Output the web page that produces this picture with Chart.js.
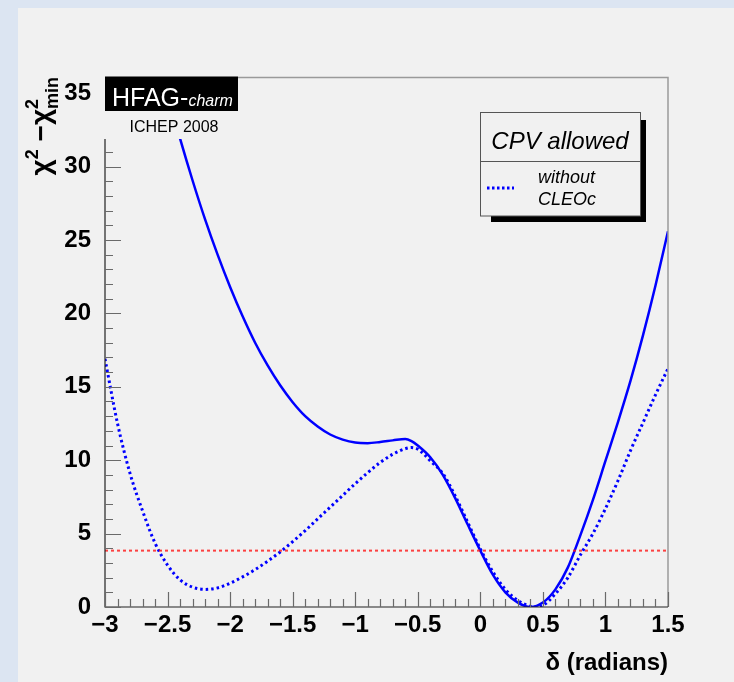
<!DOCTYPE html>
<html>
<head>
<meta charset="utf-8">
<script src="https://cdn.jsdelivr.net/npm/chart.js@4/dist/chart.umd.min.js"></script>
<style>
  html, body { margin: 0; padding: 0; background: #dce5f2; }
  canvas { display: block; }
</style>
</head>
<body>
<canvas id="chart" width="734" height="682"></canvas>
<script>
// delta (radians) vs chi2 - chi2min
var solidX = [-2.6, -2.5, -2.4, -2.3, -2.2, -2.1, -2.0, -1.9, -1.8, -1.7, -1.6, -1.5, -1.4, -1.3, -1.2, -1.1,
  -1.0, -0.9, -0.8, -0.7, -0.6, -0.55, -0.5, -0.4, -0.3, -0.2, -0.1, 0.0, 0.1, 0.2, 0.3, 0.4,
  0.5, 0.6, 0.7, 0.8, 0.9, 1.0, 1.1, 1.2, 1.3, 1.4, 1.5];
var solidY = [38.2, 34.95, 31.9, 29.05, 26.4, 24.0, 21.8, 19.8, 18.0, 16.45, 15.1, 13.95, 13.0, 12.3, 11.75, 11.4,
  11.2, 11.16, 11.24, 11.35, 11.45, 11.3, 11.0, 10.2, 9.0, 7.4, 5.6, 3.84, 2.2, 1.0, 0.3, 0.0,
  0.3, 1.2, 2.7, 4.9, 7.3, 9.95, 12.6, 15.4, 18.5, 21.9, 25.6];

// without CLEOc
var dottedX = [-3.0, -2.9, -2.8, -2.7, -2.6, -2.5, -2.4, -2.3, -2.2, -2.1, -2.0, -1.9, -1.8, -1.7, -1.6,
  -1.5, -1.4, -1.3, -1.2, -1.1, -1.0, -0.9, -0.8, -0.7, -0.6, -0.55, -0.5, -0.45, -0.4, -0.3, -0.2,
  -0.1, 0.0, 0.1, 0.2, 0.3, 0.4, 0.45, 0.5, 0.6, 0.7, 0.8, 0.9, 1.0, 1.1, 1.2, 1.3, 1.4, 1.5];
var dottedY = [16.9, 12.5, 9.1, 6.55, 4.35, 2.85, 1.85, 1.35, 1.2, 1.3, 1.62, 2.05, 2.55, 3.12, 3.75,
  4.45, 5.2, 6.0, 6.8, 7.6, 8.4, 9.15, 9.85, 10.4, 10.78, 10.86, 10.75, 10.4, 9.95, 9.1, 7.55,
  5.75, 3.95, 2.4, 1.2, 0.45, 0.05, 0.0, 0.1, 0.9, 2.0, 3.55, 5.0, 6.7, 8.6, 10.65, 12.55, 14.45, 16.24];

// 95% CL line
var limitX = [-3, 1.5];
var limitY = [3.84, 3.84];

var xTicks = [-3, -2.5, -2, -1.5, -1, -0.5, 0, 0.5, 1, 1.5];
var yTicks = [0, 5, 10, 15, 20, 25, 30, 35];

function pts(xs, ys) {
  return xs.map(function (x, i) { return { x: x, y: ys[i] }; });
}

function fmt(v) {
  v = Math.round(v * 10) / 10;
  return (v < 0 ? '\u2212' : '') + Math.abs(v);
}

var FONT = '"Liberation Sans", Arial, Helvetica, sans-serif';

// panel background
var bgPlugin = {
  id: 'bg',
  beforeDraw: function (chart) {
    var ctx = chart.ctx;
    ctx.save();
    ctx.fillStyle = '#dce5f2';
    ctx.fillRect(0, 0, chart.width, chart.height);
    ctx.fillStyle = '#f1f1f1';
    ctx.fillRect(18, 8, chart.width - 18, chart.height - 8);
    ctx.restore();
  }
};

// frame, axis lines and inward ticks like ROOT
var framePlugin = {
  id: 'frame',
  afterDatasetsDraw: function (chart) {
    var ctx = chart.ctx, a = chart.chartArea;
    var xs = chart.scales.x, ys = chart.scales.y;
    ctx.save();
    ctx.strokeStyle = '#9a9a9a';
    ctx.lineWidth = 1.5;
    ctx.beginPath();
    ctx.moveTo(a.left, a.top + 0.5);
    ctx.lineTo(a.right, a.top + 0.5);
    ctx.lineTo(a.right, a.bottom);
    ctx.stroke();

    ctx.strokeStyle = '#222';
    ctx.lineWidth = 1.2;
    ctx.beginPath();
    ctx.moveTo(a.left, a.top);
    ctx.lineTo(a.left, a.bottom);
    ctx.lineTo(a.right, a.bottom);
    ctx.stroke();

    ctx.strokeStyle = '#6a6a6a';
    ctx.lineWidth = 1.2;
    ctx.beginPath();
    var i, p, major;
    for (i = 0; i <= 36; i++) {
      p = Math.round(ys.getPixelForValue(i)) + 0.5;
      major = i % 5 === 0;
      ctx.moveTo(a.left, p);
      ctx.lineTo(a.left + (major ? 16 : 8), p);
    }
    for (i = -30; i <= 15; i++) {
      p = Math.round(xs.getPixelForValue(i / 10)) + 0.5;
      major = i % 5 === 0;
      ctx.moveTo(p, a.bottom);
      ctx.lineTo(p, a.bottom - (major ? 15 : 8));
    }
    ctx.stroke();
    ctx.restore();
  }
};

// labels, legend and y title
var overlayPlugin = {
  id: 'overlay',
  afterDraw: function (chart) {
    var ctx = chart.ctx;
    ctx.save();

    // HFAG-charm logo
    ctx.fillStyle = '#f1f1f1';
    ctx.fillRect(104, 76, 134, 63);
    ctx.fillStyle = '#000';
    ctx.fillRect(105, 76.5, 133, 34.5);
    ctx.textBaseline = 'alphabetic';
    ctx.textAlign = 'left';
    ctx.fillStyle = '#fff';
    ctx.font = '25px ' + FONT;
    ctx.fillText('HFAG-', 112, 106);
    var w = ctx.measureText('HFAG-').width;
    ctx.font = 'italic 16px ' + FONT;
    ctx.fillText('charm', 112 + w, 106);
    ctx.fillStyle = '#000';
    ctx.font = '16px ' + FONT;
    ctx.textAlign = 'center';
    ctx.fillText('ICHEP 2008', 174, 132);

    // legend with shadow
    ctx.fillStyle = '#000';
    ctx.fillRect(491, 120, 155, 102);
    ctx.fillStyle = '#f1f1f1';
    ctx.fillRect(480.5, 112.5, 160, 103.5);
    ctx.strokeStyle = '#555';
    ctx.lineWidth = 1;
    ctx.strokeRect(480.5, 112.5, 160, 103.5);
    ctx.beginPath();
    ctx.moveTo(480.5, 161.5);
    ctx.lineTo(640.5, 161.5);
    ctx.stroke();
    ctx.fillStyle = '#000';
    ctx.font = 'italic 24px ' + FONT;
    ctx.textAlign = 'center';
    ctx.fillText('CPV allowed', 560, 149);
    ctx.font = 'italic 18px ' + FONT;
    ctx.textAlign = 'left';
    ctx.fillText('without', 538, 183);
    ctx.fillText('CLEOc', 538, 205);
    ctx.strokeStyle = '#0000ff';
    ctx.lineWidth = 3;
    ctx.setLineDash([2.5, 2.5]);
    ctx.beginPath();
    ctx.moveTo(487, 188);
    ctx.lineTo(514, 188);
    ctx.stroke();
    ctx.setLineDash([]);

    // y title: chi^2 - chi^2_min, rotated
    ctx.translate(50, 77);
    ctx.rotate(-Math.PI / 2);
    ctx.fillStyle = '#000';
    var big = 'bold 28px ' + FONT, small = 'bold 18px ' + FONT;
    var parts = [
      { t: '\u03c7', f: big, dy: 0 },
      { t: '2', f: small, dy: -12 },
      { t: ' \u2212', f: big, dy: 0 },
      { t: '\u03c7', f: big, dy: 0 },
      { t: '2', f: small, dy: -12, stack: true },
      { t: 'min', f: small, dy: 8 }
    ];
    var total = 0, widths = [];
    parts.forEach(function (pt) {
      ctx.font = pt.f;
      var ww = ctx.measureText(pt.t).width;
      widths.push(ww);
      if (!pt.stack) total += ww;
    });
    var x = -total;
    ctx.textAlign = 'left';
    parts.forEach(function (pt, i) {
      ctx.font = pt.f;
      ctx.fillText(pt.t, x, pt.dy);
      if (!pt.stack) x += widths[i];
    });
    ctx.restore();
  }
};

new Chart(document.getElementById('chart'), {
  type: 'line',
  data: {
    datasets: [
      {
        label: 'CL',
        data: pts(limitX, limitY),
        borderColor: 'rgba(255,20,20,0.8)',
        borderWidth: 2,
        borderDash: [3, 3],
        pointRadius: 0
      },
      {
        label: 'with CLEOc',
        data: pts(solidX, solidY),
        borderColor: '#0000ff',
        borderWidth: 2.5,
        cubicInterpolationMode: 'monotone',
        pointRadius: 0
      },
      {
        label: 'without CLEOc',
        data: pts(dottedX, dottedY),
        borderColor: '#0000ff',
        borderWidth: 3,
        borderDash: [2.5, 3],
        cubicInterpolationMode: 'monotone',
        pointRadius: 0
      }
    ]
  },
  options: {
    responsive: false,
    animation: false,
    events: [],
    layout: { padding: { left: 0, top: 77, right: 66, bottom: 0 } },
    plugins: { legend: { display: false }, tooltip: { enabled: false } },
    scales: {
      x: {
        type: 'linear',
        min: -3,
        max: 1.5,
        afterFit: function (s) { s.height = 75; },
        afterBuildTicks: function (s) { s.ticks = xTicks.map(function (v) { return { value: v }; }); },
        grid: { display: false },
        border: { display: false },
        ticks: {
          padding: -4,
          color: '#000',
          font: { family: FONT, size: 24, weight: 'bold' },
          maxRotation: 0,
          autoSkip: false,
          callback: function (v) { return fmt(v); }
        },
        title: {
          display: true,
          text: '\u03b4 (radians)',
          align: 'end',
          color: '#000',
          font: { family: FONT, size: 24, weight: 'bold' },
          padding: { top: 0, bottom: 4 }
        }
      },
      y: {
        type: 'linear',
        min: 0,
        max: 36.1,
        afterFit: function (s) { s.width = 105; },
        afterBuildTicks: function (s) { s.ticks = yTicks.map(function (v) { return { value: v }; }); },
        grid: { display: false },
        border: { display: false },
        ticks: {
          padding: 6,
          color: '#000',
          font: { family: FONT, size: 24, weight: 'bold' },
          callback: function (v) { return fmt(v); }
        }
      }
    }
  },
  plugins: [bgPlugin, framePlugin, overlayPlugin]
});
</script>
</body>
</html>
